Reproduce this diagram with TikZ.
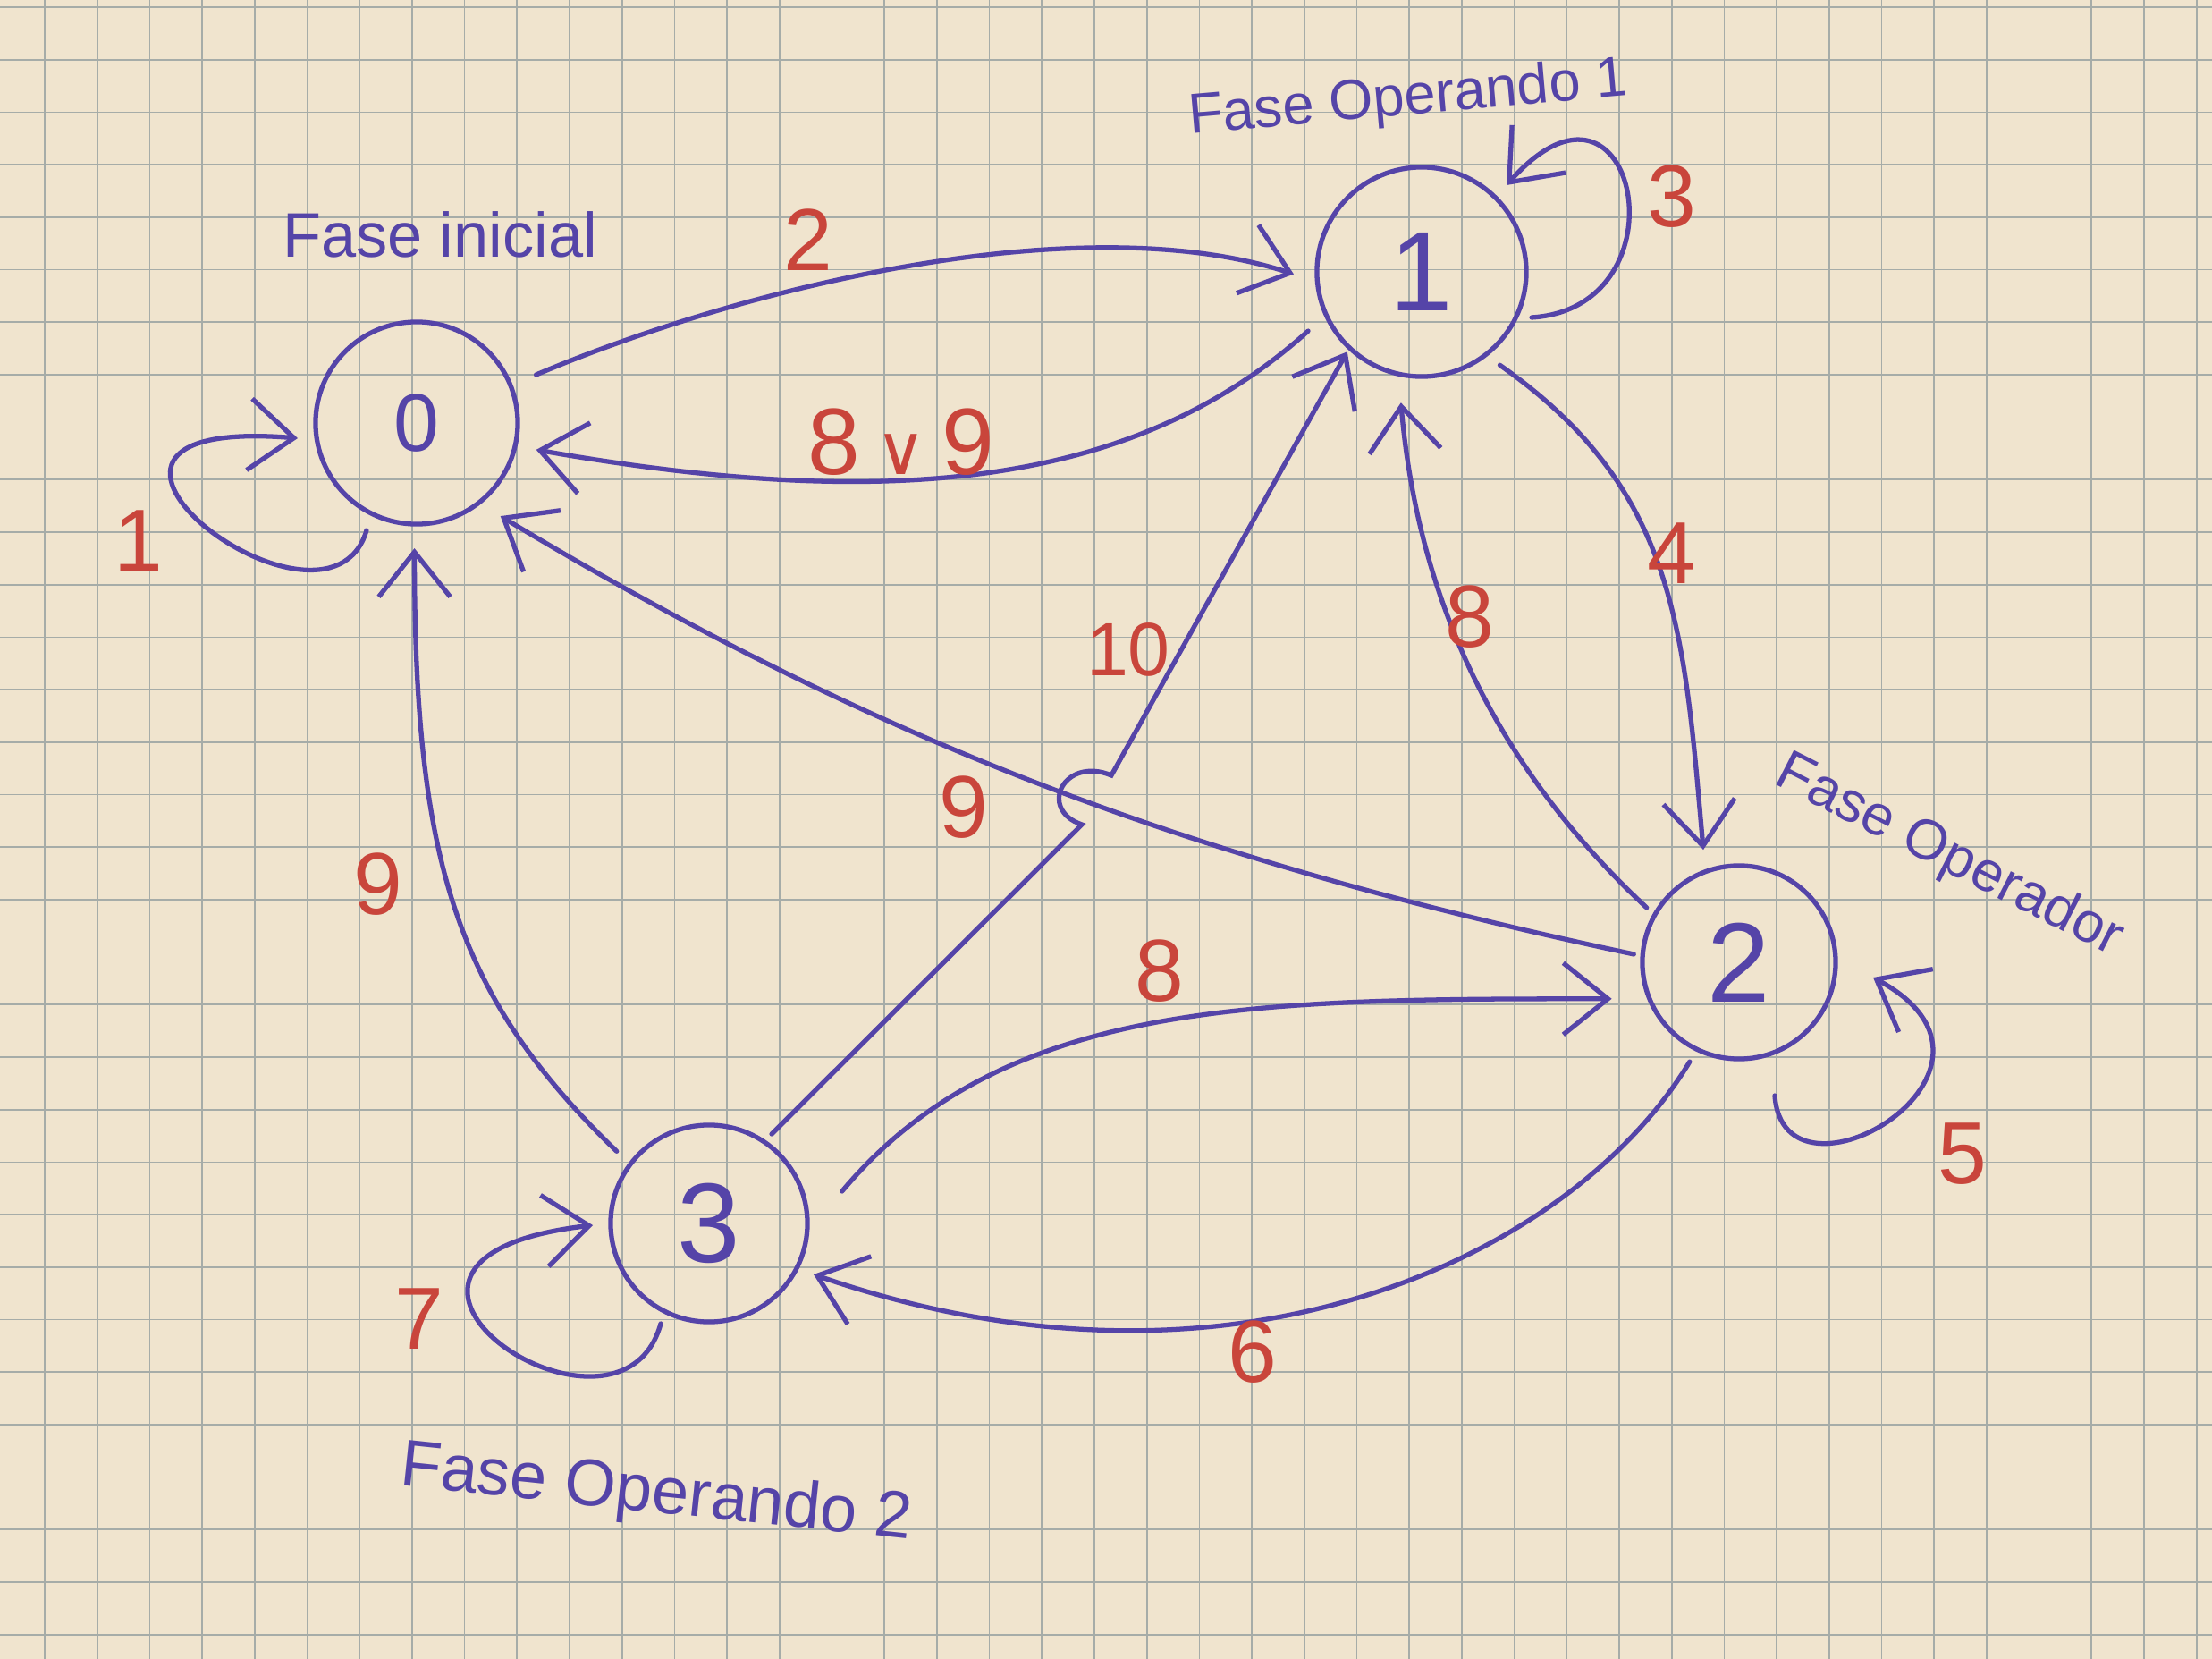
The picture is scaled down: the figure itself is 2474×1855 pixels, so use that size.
\documentclass[tikz,border=0pt]{standalone}
\usepackage{fontspec}
\setmainfont{Liberation Sans}
\newfontfamily\symfnt{DejaVu Sans}
\usetikzlibrary{arrows.meta,calc}
\definecolor{paper}{HTML}{F0E4CE}
\definecolor{gridc}{HTML}{A6ACA8}
\definecolor{ink}{HTML}{5544A8}
\definecolor{redink}{HTML}{C9453B}
\begin{document}
\begin{tikzpicture}[x=0.01cm,y=-0.01cm,
  state/.style={circle,draw=ink,line width=1.5pt,inner sep=0pt,text=ink,font=\fontsize{36}{40}\selectfont},
  conn/.style={draw=ink,line width=1.5pt,line cap=round,-{Straight Barb[length=5mm,width=8mm]}},
  lab/.style={text=redink,font=\fontsize{28}{32}\selectfont,inner sep=0pt},
  ttl/.style={text=ink,font=\fontsize{20}{24}\selectfont,inner sep=0pt}]
\fill[paper] (0,0) rectangle (2474,1855);
\useasboundingbox (0,0) rectangle (2474,1855);
\foreach \i in {0,...,41} \draw[gridc,line width=0.5pt] ({50+58.7*\i},0) -- ({50+58.7*\i},1855);
\foreach \j in {0,...,31} \draw[gridc,line width=0.5pt] (0,{8+58.7*\j}) -- (2474,{8+58.7*\j});

% states
\node[state,minimum size=2.26cm,font=\fontsize{26}{30}\selectfont] (n0) at (466,473) {0};
\node[state,minimum size=2.34cm] (n1) at (1590,304) {1};
\node[state,minimum size=2.16cm] (n2) at (1945,1076) {2};
\node[state,minimum size=2.20cm] (n3) at (793,1368) {3};
\coordinate (hop) at (1222,895);

% transitions
\draw[conn] ($(n0)+(22:1.44cm)$) to[out=23,in=162,out distance=2.5cm,in distance=2.5cm] ($(n1)+(181:1.43cm)$);
\draw[conn] ($(n1)+(207.5:1.43cm)$) to[out=222,in=-10,out distance=2.5cm,in distance=4.2cm] ($(n0)+(-12.6:1.37cm)$);
\draw[conn] ($(n0)+(-56,120)$) .. controls ($(n0)+(-100,270)$) and ($(n0)+(-470,-10)$) .. ($(n0)+(-133,17)$);
\draw[conn] ($(n1)+(123,51)$) .. controls ($(n1)+(300,40)$) and ($(n1)+(240,-260)$) .. ($(n1)+(95,-97)$);
\draw[conn] ($(n1)+(-50:1.36cm)$) to[out=-35,in=95,out distance=2.4cm,in distance=2.5cm] ($(n2)+(107.6:1.32cm)$);
\draw[conn] ($(n2)+(149.4:1.20cm)$) to[out=137,in=-85,out distance=2cm,in distance=2.5cm] ($(n1)+(261:1.48cm)$);
\draw[conn] ($(n2)+(175.6:1.18cm)$) to[out=168,in=-31,out distance=5cm,in distance=5cm] ($(n0)+(-48:1.40cm)$);
\draw[conn] ($(n3)+(55:1.22cm)$) -- ($(hop)+(-12,27)$) .. controls ($(hop)+(-62,10)$) and ($(hop)+(-32,-50)$) .. ($(hop)+(21,-28)$) -- ($(n1)+(227:1.22cm)$);
\draw[conn] ($(n3)+(142:1.31cm)$) to[out=136,in=-90,out distance=2.5cm,in distance=3.5cm] ($(n0)+(269:1.40cm)$);
\draw[conn] ($(n3)+(13.6:1.53cm)$) to[out=50,in=180,out distance=2.8cm,in distance=4cm] ($(n2)+(196:1.48cm)$);
\draw[conn] ($(n2)+(243.6:1.24cm)$) to[out=239,in=-19,out distance=2.5cm,in distance=5cm] ($(n3)+(-26:1.30cm)$);
\draw[conn] ($(n2)+(40,149)$) .. controls ($(n2)+(50,290)$) and ($(n2)+(340,120)$) .. ($(n2)+(150,17)$);
\draw[conn] ($(n3)+(-54,112)$) .. controls ($(n3)+(-100,280)$) and ($(n3)+(-460,40)$) .. ($(n3)+(-130,2)$);

% transition labels
\node[lab] (l1) at (155,605) {1};
\node[lab] (l2) at (904,268) {2};
\node[lab,font=\fontsize{30}{34}\selectfont] (l89) at (1008,494) {8\,{\symfnt\fontsize{22}{24}\selectfont ∨}\,9};
\node[lab] (l3) at (1870,220) {3};
\node[lab] (l4) at (1870,619) {4};
\node[lab] (l8a) at (1644,690) {8};
\node[lab,font=\fontsize{24}{28}\selectfont] (l10) at (1262,726) {10};
\node[lab] (l9a) at (1078,903) {9};
\node[lab] (l9b) at (423,989) {9};
\node[lab] (l8b) at (1297,1086) {8};
\node[lab] (l5) at (2195,1290) {5};
\node[lab] (l6) at (1401,1512) {6};
\node[lab] (l7) at (469,1475) {7};

% state captions
\node[ttl] (c0) at (492,262) {Fase inicial};
\node[ttl,font=\fontsize{18}{22}\selectfont,rotate=5] (c1) at (1575,112) {Fase Operando 1};
\node[ttl,font=\fontsize{18}{22}\selectfont,rotate=-27] (c2) at (2180,958) {Fase Operador};
\node[ttl,font=\fontsize{21}{25}\selectfont,rotate=-6] (c3) at (734,1672) {Fase Operando 2};
\end{tikzpicture}
\end{document}
